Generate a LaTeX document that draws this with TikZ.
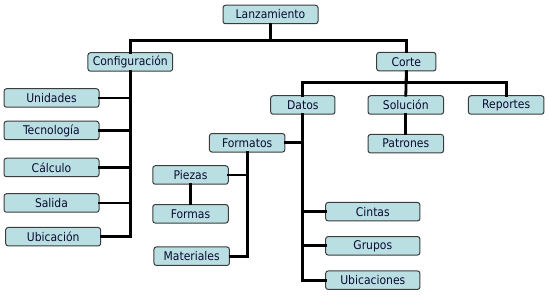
\documentclass[tikz,border=0pt]{standalone}
\usepackage{fontspec}
\setmainfont{DejaVu Sans Condensed}
\definecolor{BoxFill}{RGB}{186,223,227}
\definecolor{BoxLine}{RGB}{60,60,60}
\definecolor{TextNavy}{RGB}{10,10,50}
\usepackage{tikz}
\tikzset{
  menu/.style={draw=BoxLine,fill=BoxFill,rounded corners=2.5pt,line width=1pt,
               inner sep=0pt,minimum height=18.5pt,text=TextNavy,font=\fontsize{12}{14}\selectfont},
  wide/.style={menu,minimum width=95pt},
  mid/.style={menu,minimum width=75.5pt},
  link/.style={line width=2.8pt,line cap=rect}
}

\begin{document}
\begin{tikzpicture}[x=1pt,y=-1pt]
    \useasboundingbox (0,0) rectangle (548,296);
    % root and first level
    \node[wide] (lanz) at (270.5,14.5) {Lanzamiento};
    \node[menu,minimum width=84.7pt] (conf) at (130.3,62) {Configuración};
    \node[menu,minimum width=59.3pt] (corte) at (406.3,61.7) {Corte};
    % configuracion
    \node[wide] (unid) at (51.5,98) {Unidades};
    \node[wide] (tecno) at (51.5,130.5) {Tecnología};
    \node[wide] (calc) at (51.5,167.5) {Cálculo};
    \node[wide] (salida) at (51.5,203) {Salida};
    \node[wide] (ubic) at (53.2,236.7) {Ubicación};
    % corte
    \node[menu,minimum width=64.3pt] (datos) at (302.8,105) {Datos};
    \node[mid] (sol) at (405.8,105) {Solución};
    \node[mid] (rep) at (506.2,105) {Reportes};
    \node[mid] (patr) at (405.8,143.7) {Patrones};
    % datos
    \node[mid] (form) at (247.2,142.8) {Formatos};
    \node[mid] (piezas) at (190.5,175) {Piezas};
    \node[mid] (formas) at (190.5,213.8) {Formas};
    \node[mid] (mat) at (191.7,256.2) {Materiales};
    \node[menu,minimum width=94.3pt] (cintas) at (372.8,211.7) {Cintas};
    \node[menu,minimum width=94.3pt] (grupos) at (372.8,245.8) {Grupos};
    \node[menu,minimum width=94.3pt] (ubics) at (372.8,280.2) {Ubicaciones};

    \draw[link] (lanz.south) -- ++(0,16.2) -| (conf.north);
    \draw[link] (lanz.south) -- ++(0,16.2) -| (corte.north);
    \foreach \kid in {unid,tecno,calc,salida,ubic}
      \draw[link] (conf.south) |- (\kid.east);
    \draw[link] (corte.south) -- ++(0,11.2) -| (datos.north);
    \draw[link] (corte.south) -- ++(0,11.2) -| (rep.north);
    \draw[link] (corte.south) -- (sol.north);
    \draw[link] (sol.south) -- (patr.north);
    \draw[link] (datos.south) |- (form.east);
    \foreach \kid in {cintas,grupos,ubics}
      \draw[link] (datos.south) |- (\kid.west);
    \draw[link] (form.south) |- (piezas.east);
    \draw[link] (form.south) |- (mat.east);
    \draw[link] (piezas.south) -- (formas.north);
\end{tikzpicture}
\end{document}
